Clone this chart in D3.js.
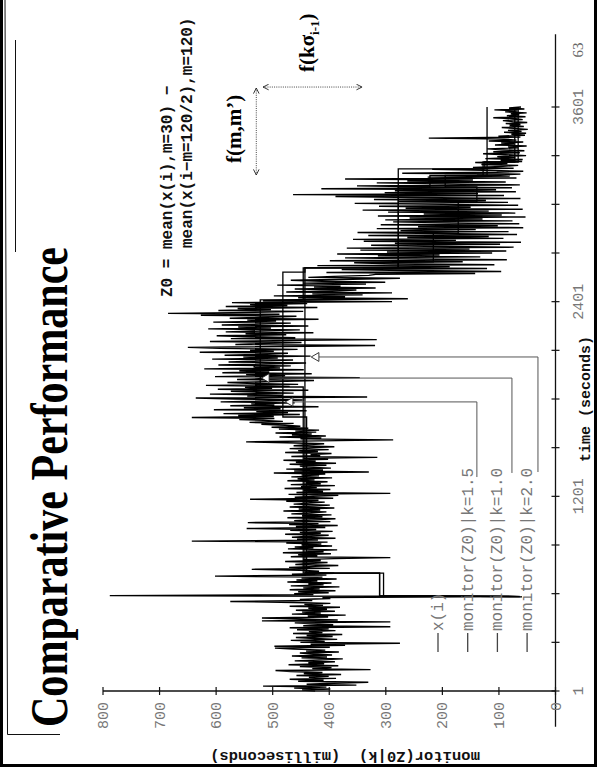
<!DOCTYPE html>
<html><head><meta charset="utf-8">
<script src="https://cdn.jsdelivr.net/npm/d3@7"></script>
<style>
html,body{margin:0;padding:0;background:#fff;}
svg{display:block;}
</style></head><body>
<svg id="chart" width="597" height="772"></svg>
<script>
// ---- data -------------------------------------------------------------
// response time x(i) in milliseconds, one sample every 6 seconds from t = 1
const sampleStep = 6;
const responseMs = [
 425,448,398,462,405,517,352,440,392,331, 455,410,470,388,436,401,458,379,445,412,
 468,495,327,430,396,452,384,472,409,437, 390,461,418,376,449,404,466,395,428,452,
 383,441,407,463,496,399,497,372,433,275, 451,408,468,386,425,459,394,440,377,464,
 412,436,389,457,401,470,292,446,393,429, 461,292,519,385,450,519,402,438,371,466,
 415,448,390,459,404,437,381,470,411,444, 398,463,
 575,430,452,398,412,60,788,
 428,462,401,455,389,470,417,446,382,468,410,437,
 396,474,421,458,387,449,412,602,405,466,391,443,
 418,452,537,399,471,425,384,460,437,403,478,415,
 446,392,292,468,421,455,397,482,410,439,386,473,
 428,461,395,449,414,476,403,643,420,457,389,466,
 432,401,478,415,452,394,469,423,546,407,459,385,
 471,419,544,398,462,427,389,474,412,448,396,467,
 431,405,481,416,454,391,470,426,399,463,434,408,
 476,419,540,393,461,429,384,472,292,458,411,445,
 398,479,422,450,390,468,415,441,403,474,426,456,
 395,467,418,449,407,498,330,462,411,476,397,438,
 452,405,470,388,459,424,481,402,445,315,467,416,
 433,396,478,420,455,401,470,428,391,463,439,409,
 475,547,418,287,451,414,488,406,466,431,495,423,
 460,418,489,437,502,451,478,520,463,541,482,516,559,497,
 643,498,561,452,587,473,529,440,604,486,551,419,
 575,497,538,461,592,508,447,566,636,333,545,482,
 611,463,528,574,437,597,501,549,470,618,455,533,
 580,492,427,563,515,346,602,478,547,431,589,506,
 559,445,621,487,534,468,596,512,441,578,523,464,
 607,491,552,433,585,510,473,629,498,540,456,593,
 650,481,319,566,527,449,611,495,316,574,460,538,
 599,476,548,428,583,519,452,614,503,561,437,590,
 522,468,605,494,545,419,576,509,458,627,488,685,
 531,446,596,503,562,421,583,474,540,439,572,289,
 517,458,261,
 455,372,498,341,430,289,476,395,352,461,318,427,
 380,492,335,446,301,413,468,359,275,437,392,330,
 318,142,405,96,263,378,121,341,187,421,108,290,
 356,164,399,86,247,372,133,314,205,386,112,
 298,87,345,152,369,74,231,326,98,284,61,339,
 176,358,92,262,118,331,68,207,350,83,274,141,
 316,57,243,102,309,64,188,287,76,301,129,258,
 53,314,95,
 233,71,296,118,341,58,265,150,312,66,198,355,
 84,277,123,321,62,246,389,91,464,137,302,70,
 284,105,414,77,233,351,63,192,316,88,262,146,
 372,69,
 226,81,139,62,271,104,57,128,218,74,146,93,
 66,131,85,142,59,
 97,58,124,71,103,52,88,128,63,110,55,92,
 121,66,84,51,107,73,96,57,118,69,90,224,
 62,101,54,
 78,52,91,60,84,49,73,95,56,81,62,88,
 50,76,93,58,70,110,53,86,64,79,51,89,
 67,108,55,82,61
];

// monitor(Z0|k) step levels as [time, ms] breakpoints
const monitorK10 = [[583,60],[589,311],[728,311],[728,446],[1875,446],[1875,522],[2412,522],[2412,446],[2609,446],[2609,278],[3108,278],[3108,222],[3180,222],[3180,121],[3601,121]];
const monitorK15 = [[583,60],[589,311],[728,311],[728,440],[1690,440],[1690,482],[2583,482],[2583,443],[2609,443],[2609,278],[2646,278],[2646,216],[2823,216],[2823,172],[3016,172],[3016,139],[3108,139],[3108,195],[3180,195],[3180,128],[3262,128],[3262,66],[3601,66]];
const monitorK20 = [[583,60],[589,304],[728,304],[728,443],[2609,443],[2609,278],[3219,278],[3219,125],[3262,125],[3262,72],[3601,72]];

// axes
const timeTicks = [1,301,601,901,1201,1501,1801,2101,2401,2701,3001,3301,3601];
const timeTickLabels = [1,1201,2401,3601];
const timeAxisExtent = [-220, 4050];
const msTicks = [0,100,200,300,400,500,600,700,800];

// legend and the leader lines that tie each monitor entry into the plot
const legendLabels = ["x(i)", "monitor(Z0)|k=1.5", "monitor(Z0)|k=1.0", "monitor(Z0)|k=2.0"];
const leaders = [
  {start:[1320,139], bend:[1783,139], tip:[1783,475]},
  {start:[1345,77],  bend:[1930,77],  tip:[1930,517]},
  {start:[1351,31],  bend:[2060,31],  tip:[2060,429]}
];

// ---- drawing ----------------------------------------------------------
const W = 597, H = 772;
const svg = d3.select("#chart");
svg.append("rect").attr("width", W).attr("height", H).attr("fill", "#fff");

// landscape plot turned on its side: local (u, v) -> page (v, H - u)
const g = svg.append("g").attr("transform", `translate(0,${H}) rotate(-90)`);

const x = d3.scaleLinear().domain([1, 3601]).range([81, 665]);
const y = d3.scaleLinear().domain([0, 800]).range([555.5, 103]);

const mono = "'Liberation Mono', 'DejaVu Sans Mono', monospace";
const serif = "'Liberation Serif', 'DejaVu Serif', serif";

// title
g.append("text")
  .attr("x", 45).attr("y", 67)
  .attr("font-family", serif).attr("font-weight", "bold")
  .attr("font-size", 53)
  .attr("textLength", 480).attr("lengthAdjust", "spacingAndGlyphs")
  .text("Comparative Performance");

// response series
const series = responseMs.map((v, i) => [1 + i * sampleStep, v]);
const line = d3.line().x(d => x(d[0])).y(d => y(d[1]));
g.append("path").datum(series)
  .attr("d", line).attr("fill", "none")
  .attr("stroke", "#000").attr("stroke-width", 1.4)
  .attr("stroke-linejoin", "miter").attr("stroke-miterlimit", 2);

// monitor step lines
[monitorK10, monitorK15, monitorK20].forEach(m => {
  g.append("path").datum(m)
    .attr("d", line).attr("fill", "none")
    .attr("stroke", "#000").attr("stroke-width", 1.3);
});

// time axis (horizontal in the plot frame)
const axisColor = "#111";
g.append("line")
  .attr("x1", x(timeAxisExtent[0])).attr("x2", x(timeAxisExtent[1]))
  .attr("y1", y(0)).attr("y2", y(0))
  .attr("stroke", axisColor).attr("stroke-width", 1.3);
g.selectAll(".tt").data(timeTicks).join("line")
  .attr("x1", d => x(d)).attr("x2", d => x(d))
  .attr("y1", y(0) - 4).attr("y2", y(0) + 4)
  .attr("stroke", axisColor).attr("stroke-width", 1.2);
g.selectAll(".tl").data(timeTickLabels).join("text")
  .attr("x", d => x(d)).attr("y", y(0) + 27.5)
  .attr("text-anchor", "middle")
  .attr("font-family", mono).attr("font-size", 15).attr("fill", "#777")
  .text(d => d);
g.append("text")
  .attr("x", 722).attr("y", 583)
  .attr("text-anchor", "middle")
  .attr("font-family", serif).attr("font-size", 15).attr("fill", "#666")
  .text("63");
g.append("text")
  .attr("x", (x(1) + x(3601)) / 2).attr("y", 590)
  .attr("text-anchor", "middle")
  .attr("font-family", mono).attr("font-weight", "bold").attr("font-size", 15)
  .attr("fill", "#111")
  .text("time (seconds)");

// ms axis (vertical in the plot frame)
g.append("line")
  .attr("x1", x(1)).attr("x2", x(1))
  .attr("y1", y(0)).attr("y2", y(800))
  .attr("stroke", axisColor).attr("stroke-width", 1.3);
g.selectAll(".mt").data(msTicks).join("line")
  .attr("x1", x(1) - 4).attr("x2", x(1) + 4)
  .attr("y1", d => y(d)).attr("y2", d => y(d))
  .attr("stroke", axisColor).attr("stroke-width", 1.2);
g.selectAll(".ml").data(msTicks).join("text")
  .attr("x", x(1) - 11).attr("y", d => y(d) + 5)
  .attr("text-anchor", "end")
  .attr("font-family", mono).attr("font-size", 15).attr("fill", "#777")
  .text(d => d);
g.append("text")
  .attr("transform", `translate(20,345) rotate(-90)`)
  .attr("text-anchor", "middle")
  .attr("font-family", mono).attr("font-weight", "bold").attr("font-size", 15.5)
  .attr("fill", "#111")
  .attr("xml:space", "preserve")
  .text("monitor(Z0|k)  (milliseconds)");

// formula annotation
const formula = g.append("text")
  .attr("font-family", mono).attr("font-weight", "bold").attr("font-size", 16)
  .attr("fill", "#111").attr("xml:space", "preserve");
formula.append("tspan").attr("x", 475).attr("y", 172).text("Z0 = mean(x(i),m=30) \u2212");
formula.append("tspan").attr("x", 524).attr("y", 192).text("mean(x(i\u2212m=120/2),m=120)");

// window-size and threshold arrows
const defs = svg.append("defs");
["s", "e"].forEach(k => {
  defs.append("marker").attr("id", "ah-" + k)
    .attr("viewBox", "0 0 10 10").attr("refX", k === "e" ? 9 : 1).attr("refY", 5)
    .attr("markerWidth", 7).attr("markerHeight", 7)
    .attr("orient", "auto")
    .append("path")
    .attr("d", k === "e" ? "M1,1 L9,5 L1,9" : "M9,1 L1,5 L9,9")
    .attr("fill", "none").attr("stroke", "#222").attr("stroke-width", 1.3);
});
g.append("line")
  .attr("x1", x(3182)).attr("x2", x(3718))
  .attr("y1", y(529)).attr("y2", y(529))
  .attr("stroke", "#444").attr("stroke-width", 1).attr("stroke-dasharray", "1,1.2")
  .attr("marker-start", "url(#ah-s)").attr("marker-end", "url(#ah-e)");
g.append("line")
  .attr("x1", x(3724)).attr("x2", x(3724))
  .attr("y1", y(517)).attr("y2", y(342))
  .attr("stroke", "#444").attr("stroke-width", 1).attr("stroke-dasharray", "1,1.2")
  .attr("marker-start", "url(#ah-s)").attr("marker-end", "url(#ah-e)");
g.append("text")
  .attr("x", 609).attr("y", 241)
  .attr("font-family", serif).attr("font-weight", "bold").attr("font-size", 21)
  .text("f(m,m\u2019)");
const fk = g.append("text")
  .attr("x", 700).attr("y", 314)
  .attr("font-family", serif).attr("font-weight", "bold").attr("font-size", 21);
fk.append("tspan").text("f(k\u03c3");
fk.append("tspan").attr("dy", 5).attr("font-size", 13).text("i-1");
fk.append("tspan").attr("dy", -5).text(")");

// legend
const legV = d => 438 + d * 29.7;
const leg = g.selectAll(".leg").data(legendLabels).join("g");
leg.append("line")
  .attr("x1", 120).attr("x2", 139)
  .attr("y1", (d, i) => legV(i)).attr("y2", (d, i) => legV(i))
  .attr("stroke", "#444").attr("stroke-width", 1.3);
leg.append("text")
  .attr("x", 141).attr("y", (d, i) => legV(i) + 5)
  .attr("font-family", mono).attr("font-size", 16).attr("fill", "#777")
  .text(d => d);

// leader lines from the legend into the plot
leaders.forEach(L => {
  g.append("path")
    .attr("d", d3.line()([
      [x(L.start[0]), y(L.start[1])],
      [x(L.bend[0]), y(L.bend[1])],
      [x(L.tip[0]), y(L.tip[1]) + 6]
    ]))
    .attr("fill", "none").attr("stroke", "#555").attr("stroke-width", 1);
  g.append("path")
    .attr("transform", `translate(${x(L.tip[0])},${y(L.tip[1]) + 3.5})`)
    .attr("d", d3.symbol(d3.symbolTriangle, 34)())
    .attr("fill", "#fff").attr("stroke", "#222").attr("stroke-width", 0.9);
});

// page frame: double rule on the left, title bracket, outer border
svg.append("line").attr("x1", 5).attr("x2", 7.5).attr("y1", 0).attr("y2", 734.5)
  .attr("stroke", "#111").attr("stroke-width", 1);
svg.append("line").attr("x1", 7.5).attr("x2", 60).attr("y1", 734.5).attr("y2", 734.5)
  .attr("stroke", "#111").attr("stroke-width", 1);
svg.append("line").attr("x1", 15.5).attr("x2", 15.5).attr("y1", 40).attr("y2", 252)
  .attr("stroke", "#111").attr("stroke-width", 1);
svg.append("rect")
  .attr("x", 1.5).attr("y", -3).attr("width", 594).attr("height", 768.5)
  .attr("fill", "none").attr("stroke", "#000").attr("stroke-width", 3);
</script></body></html>
